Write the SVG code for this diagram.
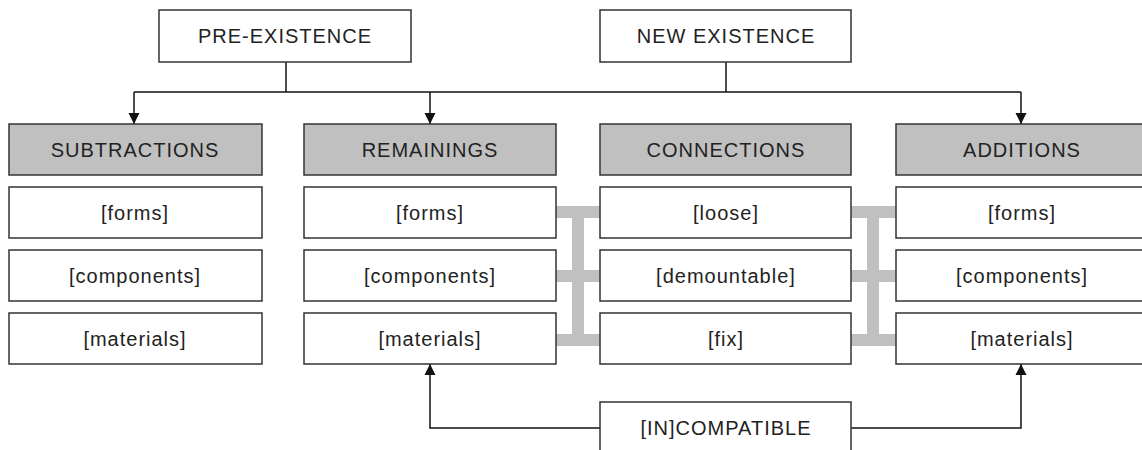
<svg xmlns="http://www.w3.org/2000/svg" width="1142" height="450" viewBox="0 0 1142 450">
<style>
.box{fill:#fff;stroke:#333;stroke-width:1.5}
.hdr{fill:#c0c0c0;stroke:#333;stroke-width:1.5}
.t{font-family:"Liberation Sans",Arial,sans-serif;font-size:20px;letter-spacing:1px;fill:#222;text-anchor:middle}
.ln{fill:none;stroke:#111;stroke-width:1.5}
.g{fill:#c0c0c0}
</style>
<defs>
<marker id="ah" markerWidth="11" markerHeight="14" refX="11" refY="5.5" orient="auto" markerUnits="userSpaceOnUse" viewBox="0 0 11 11">
<path d="M0,0 L11,5.5 L0,11 Z" fill="#111"/>
</marker>
</defs>
<rect width="1142" height="450" fill="#fff"/>
<g id="connectors">
<path class="ln" d="M286,62 V92"/>
<path class="ln" d="M726,62 V92"/>
<path class="ln" d="M134,92 H1021"/>
<path class="ln" d="M134,92 V124" marker-end="url(#ah)"/>
<path class="ln" d="M430,92 V124" marker-end="url(#ah)"/>
<path class="ln" d="M1021,92 V124" marker-end="url(#ah)"/>
<path class="ln" d="M600,428 H430 V364" marker-end="url(#ah)"/>
<path class="ln" d="M851,428 H1021 V364" marker-end="url(#ah)"/>
<g id="links-left">
<rect class="g" x="556" y="206" width="44" height="12"/>
<rect class="g" x="556" y="270" width="44" height="12"/>
<rect class="g" x="556" y="334" width="44" height="12"/>
<rect class="g" x="572" y="206" width="12" height="140"/>
</g>
<g id="links-right">
<rect class="g" x="851" y="206" width="45" height="12"/>
<rect class="g" x="851" y="270" width="45" height="12"/>
<rect class="g" x="851" y="334" width="45" height="12"/>
<rect class="g" x="867" y="206" width="12" height="140"/>
</g>
</g>
<g id="pre-existence"><rect class="box" x="159" y="10" width="252" height="52"/><text class="t" x="285" y="43">PRE-EXISTENCE</text></g>
<g id="new-existence"><rect class="box" x="600" y="10" width="251" height="52"/><text class="t" x="726" y="43">NEW EXISTENCE</text></g>
<g id="subtractions"><rect class="hdr" x="9" y="124" width="253" height="51"/><text class="t" x="135" y="157">SUBTRACTIONS</text></g>
<g id="remainings"><rect class="hdr" x="304" y="124" width="252" height="51"/><text class="t" x="430" y="157">REMAININGS</text></g>
<g id="connections"><rect class="hdr" x="600" y="124" width="251" height="51"/><text class="t" x="726" y="157">CONNECTIONS</text></g>
<g id="additions"><rect class="hdr" x="896" y="124" width="252" height="51"/><text class="t" x="1022" y="157">ADDITIONS</text></g>
<g id="sub-forms"><rect class="box" x="9" y="187" width="253" height="51"/><text class="t" x="135" y="220">[forms]</text></g>
<g id="sub-components"><rect class="box" x="9" y="250" width="253" height="51"/><text class="t" x="135" y="283">[components]</text></g>
<g id="sub-materials"><rect class="box" x="9" y="313" width="253" height="51"/><text class="t" x="135" y="346">[materials]</text></g>
<g id="rem-forms"><rect class="box" x="304" y="187" width="252" height="51"/><text class="t" x="430" y="220">[forms]</text></g>
<g id="rem-components"><rect class="box" x="304" y="250" width="252" height="51"/><text class="t" x="430" y="283">[components]</text></g>
<g id="rem-materials"><rect class="box" x="304" y="313" width="252" height="51"/><text class="t" x="430" y="346">[materials]</text></g>
<g id="con-loose"><rect class="box" x="600" y="187" width="251" height="51"/><text class="t" x="726" y="220">[loose]</text></g>
<g id="con-demountable"><rect class="box" x="600" y="250" width="251" height="51"/><text class="t" x="726" y="283">[demountable]</text></g>
<g id="con-fix"><rect class="box" x="600" y="313" width="251" height="51"/><text class="t" x="726" y="346">[fix]</text></g>
<g id="add-forms"><rect class="box" x="896" y="187" width="252" height="51"/><text class="t" x="1022" y="220">[forms]</text></g>
<g id="add-components"><rect class="box" x="896" y="250" width="252" height="51"/><text class="t" x="1022" y="283">[components]</text></g>
<g id="add-materials"><rect class="box" x="896" y="313" width="252" height="51"/><text class="t" x="1022" y="346">[materials]</text></g>
<g id="incompatible"><rect class="box" x="600" y="402" width="251" height="60"/><text class="t" x="726" y="435">[IN]COMPATIBLE</text></g>
</svg>
